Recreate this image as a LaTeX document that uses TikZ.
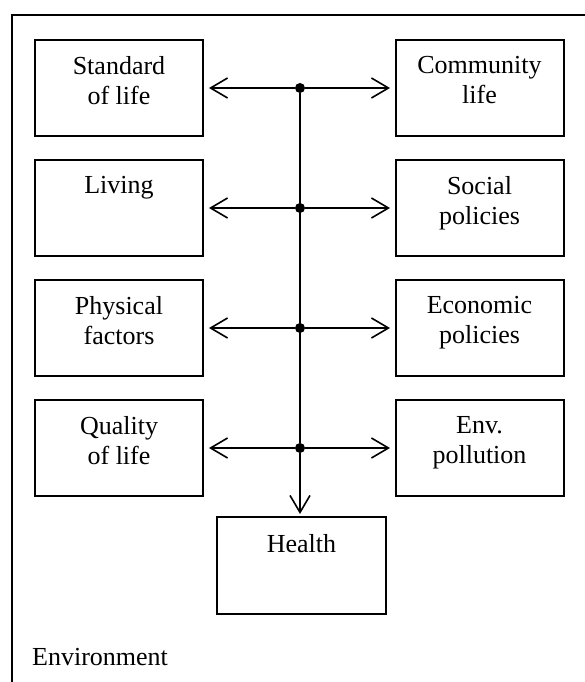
\documentclass[tikz,border=0pt]{standalone}
\usepackage{fontspec}
\setmainfont{Liberation Serif}
\usetikzlibrary{arrows.meta,calc}
\begin{document}
\begin{tikzpicture}[x=1pt,y=-1pt,
  box/.style={draw, line width=2pt, minimum width=168pt, minimum height=96pt, inner sep=0pt},
  lbl/.style={anchor=north, inner sep=0pt, align=center, font=\fontsize{26}{30}\selectfont},
  link/.style={line width=1.6pt},
  tip/.style={link, -{Straight Barb[length=17pt,width=20pt,line width=1.6pt]}},
  junction/.style={circle, fill, inner sep=0pt, minimum size=10pt}]
\useasboundingbox (0,0) rectangle (585,682);
\clip (0,0) rectangle (585,682);
% environment frame (continues past the right and bottom edges)
\draw[line width=2pt] (11.5,15.5) rectangle (620,720);

% factor boxes
\node[box] (sol) at (119,88) {};
\node[box] (liv) at (119,208) {};
\node[box] (phy) at (119,328) {};
\node[box] (qol) at (119,448) {};
\node[box] (com) at (479.5,88) {};
\node[box] (soc) at (479.5,208) {};
\node[box] (eco) at (479.5,328) {};
\node[box] (pol) at (479.5,448) {};
\node[box, minimum width=169pt, minimum height=97pt] (hea) at (301.5,565.5) {};

% box texts
\node[lbl] at ($(sol.north)+(0,17)$) {Standard\\of life};
\node[lbl] at ($(liv.north)+(0,17)$) {Living};
\node[lbl] at ($(phy.north)+(0,17)$) {Physical\\factors};
\node[lbl] at ($(qol.north)+(0,17)$) {Quality\\of life};
\node[lbl] at ($(com.north)+(0,17)$) {Community\\life};
\node[lbl] at ($(soc.north)+(0,17)$) {Social\\policies};
\node[lbl] at ($(eco.north)+(0,17)$) {Economic\\policies};
\node[lbl] at ($(pol.north)+(0,17)$) {Env.\\pollution};
\node[lbl] at ($(hea.north)+(0,18)$) {Health};
\node[anchor=base west, inner sep=0pt, font=\fontsize{26}{30}\selectfont] (env) at (32,665) {Environment};

% junctions on the spine
\node[junction] (j1) at (300,88) {};
\node[junction] (j2) at (300,208) {};
\node[junction] (j3) at (300,328) {};
\node[junction] (j4) at (300,448) {};

% spine
\draw[link] (j1) -- (j4);
\draw[tip, shorten >=2pt] (j4) -- (j4 |- hea.north);

% branches
\foreach \j/\l/\r in {j1/sol/com, j2/liv/soc, j3/phy/eco, j4/qol/pol}{
  \draw[tip, shorten >=5pt] (\j) -- (\l);
  \draw[tip, shorten >=4.5pt] (\j) -- (\r);
}
\end{tikzpicture}
\end{document}
